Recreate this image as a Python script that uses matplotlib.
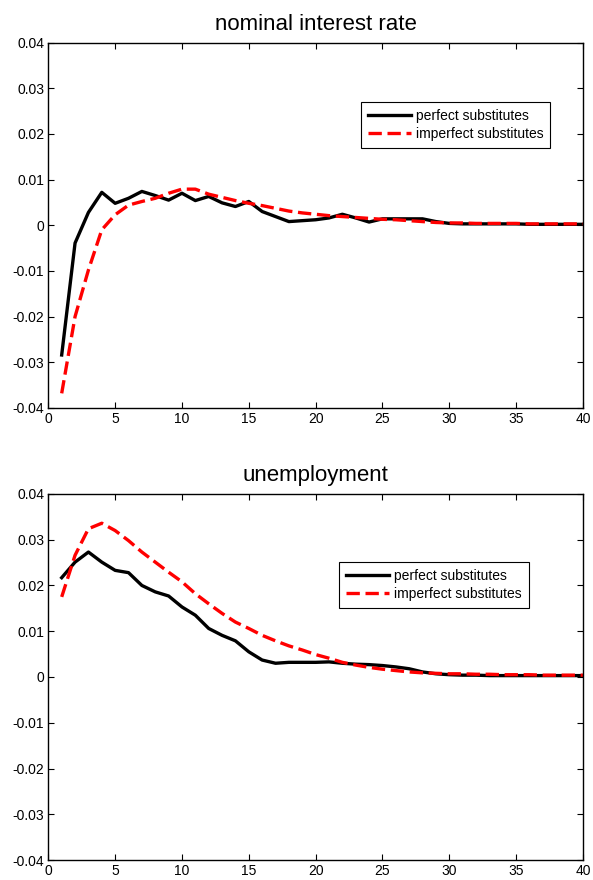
import numpy as np
import matplotlib.pyplot as plt

plt.rcParams['font.family'] = ['Liberation Sans', 'DejaVu Sans']

# Impulse responses, periods 1..40
periods = np.arange(1, 41)

rate_perfect = [-0.0284, -0.0039, 0.0028, 0.0072, 0.0048, 0.0059, 0.0074, 0.0065, 0.0055, 0.0070,
                0.0054, 0.0063, 0.0049, 0.0041, 0.0052, 0.0030, 0.0019, 0.0008, 0.0010, 0.0012,
                0.0016, 0.0024, 0.0016, 0.0007, 0.0014, 0.0014, 0.0014, 0.0014, 0.0008, 0.0004,
                0.0003, 0.0003, 0.0003, 0.0003, 0.0003, 0.0002, 0.0002, 0.0002, 0.0002, 0.0002]
rate_imperfect = [-0.0368, -0.0200, -0.0098, -0.0010, 0.0023, 0.0044, 0.0052, 0.0059, 0.0070, 0.0079,
                  0.0079, 0.0068, 0.0061, 0.0054, 0.0048, 0.0043, 0.0037, 0.0031, 0.0027, 0.0024,
                  0.0021, 0.0019, 0.0017, 0.0015, 0.0013, 0.0012, 0.0010, 0.0008, 0.0006, 0.0005,
                  0.0005, 0.0004, 0.0004, 0.0004, 0.0004, 0.0003, 0.0003, 0.0003, 0.0003, 0.0003]

unemp_perfect = [0.0217, 0.0251, 0.0273, 0.0251, 0.0233, 0.0228, 0.0200, 0.0186, 0.0177, 0.0153,
                 0.0135, 0.0106, 0.0091, 0.0079, 0.0055, 0.0037, 0.0030, 0.0032, 0.0032, 0.0032,
                 0.0033, 0.0030, 0.0028, 0.0027, 0.0025, 0.0022, 0.0018, 0.0011, 0.0007, 0.0005,
                 0.0004, 0.0004, 0.0003, 0.0003, 0.0003, 0.0003, 0.0003, 0.0003, 0.0003, 0.0003]
unemp_imperfect = [0.0175, 0.0266, 0.0324, 0.0336, 0.0320, 0.0298, 0.0273, 0.0251, 0.0229, 0.0208,
                   0.0182, 0.0160, 0.0139, 0.0120, 0.0106, 0.0091, 0.0079, 0.0068, 0.0059, 0.0049,
                   0.0041, 0.0032, 0.0026, 0.0021, 0.0017, 0.0014, 0.0011, 0.0009, 0.0008, 0.0007,
                   0.0007, 0.0006, 0.0006, 0.0005, 0.0005, 0.0005, 0.0004, 0.0004, 0.0004, 0.0004]

titles = ["nominal interest rate", "unemployment"]
labels = ["perfect substitutes", "imperfect substitutes"]
yticks = [-0.04, -0.03, -0.02, -0.01, 0, 0.01, 0.02, 0.03, 0.04]
ytick_labels = ["-0.04", "-0.03", "-0.02", "-0.01", "0", "0.01", "0.02", "0.03", "0.04"]

fig = plt.figure(figsize=(5.93, 8.8), dpi=100)
ax1 = fig.add_axes([0.0815, 0.5364, 0.9015, 0.4153])
ax2 = fig.add_axes([0.0815, 0.0227, 0.9015, 0.4160])

panels = [
    (ax1, rate_perfect, rate_imperfect, (0.585, 0.837)),
    (ax2, unemp_perfect, unemp_imperfect, (0.544, 0.814)),
]

for (ax, perfect, imperfect, leg_pos), title in zip(panels, titles):
    ax.plot(periods, perfect, color="black", lw=2.4, label=labels[0])
    ax.plot(periods, imperfect, color="red", lw=2.4, ls=(0, (4, 1.7)), label=labels[1])
    ax.set_xlim(0, 40)
    ax.set_ylim(-0.04, 0.04)
    ax.set_xticks(np.arange(0, 41, 5))
    ax.set_yticks(yticks)
    ax.set_yticklabels(ytick_labels)
    ax.tick_params(direction="in", top=True, right=True, labelsize=10, length=4, width=0.8, pad=3)
    for s in ax.spines.values():
        s.set_linewidth(1.0)
    ax.set_title(title, fontsize=16, pad=9)
    leg = ax.legend(loc="upper left", bbox_to_anchor=leg_pos, borderaxespad=0, fontsize=10,
                    fancybox=False, edgecolor="black", framealpha=1, handlelength=3.1,
                    handletextpad=0.35, borderpad=0.5, labelspacing=0.3)
    leg.get_frame().set_linewidth(0.8)

fig.savefig("out.png", dpi=100)
